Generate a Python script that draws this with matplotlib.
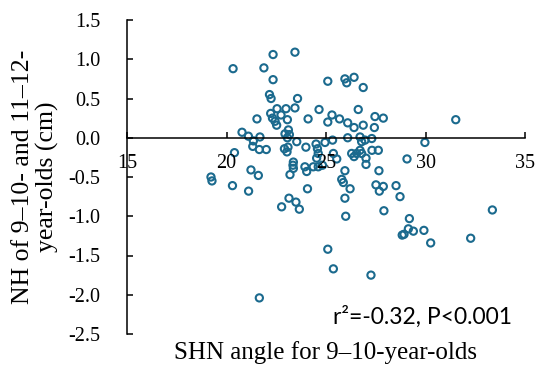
import matplotlib
matplotlib.use("Agg")
import matplotlib.pyplot as plt
import numpy as np

plt.rcParams['axes.unicode_minus'] = False

# SHN angle (9-10 years) and NH (cm)
shn = np.array([
    20.33, 21.88, 22.34, 23.44, 22.34, 22.16, 22.24, 23.57, 23.44, 22.99,
    22.54, 22.22, 22.74, 22.31, 22.44, 22.52, 23.06, 21.53, 24.10, 23.11,
    22.94, 23.16, 23.06, 20.78, 21.10, 21.68, 24.65, 25.09, 25.95, 26.04,
    26.41, 26.87, 25.30, 25.09, 25.68, 26.09, 26.41, 26.87, 26.62, 27.46,
    27.88, 27.43, 31.52, 26.09, 26.71, 27.30,
    21.35, 21.32, 21.65, 22.00, 20.40, 22.91, 23.09, 23.04, 23.53, 23.99,
    24.50, 24.95, 25.33, 24.57, 24.61, 24.53, 25.37, 25.54, 26.79, 26.96,
    26.29, 26.41, 26.54, 26.71, 26.79, 27.01, 27.01, 27.31, 27.63, 27.66,
    29.07, 29.97, 23.36, 23.34, 23.36, 23.94, 24.03, 24.36, 24.61, 24.82,
    23.19, 21.23, 21.60, 25.95, 25.79, 25.87, 19.22, 19.27, 20.30, 21.11,
    24.07, 23.14, 23.49, 22.77, 23.66, 26.21, 25.95, 25.99, 25.09, 25.37,
    21.65, 27.26, 27.51, 27.68, 27.88, 28.52, 28.72, 27.91, 29.19, 29.14,
    29.39, 29.92, 28.83, 28.92, 30.26, 32.27, 33.36,
])
nh = np.array([
    0.88, 0.89, 1.06, 1.09, 0.74, 0.55, 0.50, 0.50, 0.38, 0.37,
    0.37, 0.31, 0.29, 0.25, 0.21, 0.16, 0.23, 0.24, 0.24, 0.10,
    0.05, 0.04, 0.00, 0.07, 0.02, 0.01, 0.36, 0.72, 0.75, 0.70,
    0.77, 0.64, 0.29, 0.20, 0.24, 0.19, 0.13, 0.16, 0.36, 0.27,
    0.25, 0.13, 0.23, 0.00, 0.01, -0.01,
    -0.04, -0.11, -0.15, -0.15, -0.19, -0.14, -0.12, -0.18, -0.05, -0.12,
    -0.08, -0.06, -0.03, -0.14, -0.20, -0.26, -0.20, -0.27, -0.05, -0.03,
    -0.20, -0.24, -0.20, -0.16, -0.20, -0.26, -0.34, -0.16, -0.16, -0.42,
    -0.27, -0.06, -0.31, -0.35, -0.39, -0.37, -0.43, -0.37, -0.37, -0.35,
    -0.47, -0.41, -0.48, -0.42, -0.53, -0.57, -0.50, -0.55, -0.61, -0.68,
    -0.65, -0.77, -0.82, -0.88, -0.91, -0.65, -0.77, -1.00, -1.42, -1.67,
    -2.04, -1.75, -0.60, -0.68, -0.62, -0.61, -0.75, -0.93, -1.03, -1.16,
    -1.19, -1.18, -1.24, -1.23, -1.34, -1.28, -0.92,
])

xticks = [15, 20, 25, 30, 35]
yticks = [-2.5, -2.0, -1.5, -1.0, -0.5, 0.0, 0.5, 1.0, 1.5]

serif = 'Liberation Serif'
blue = '#1b6a8e'

fig = plt.figure(figsize=(5.35, 3.65), dpi=100)
ax = fig.add_axes([127/535, 31/365, 398/535, 314/365])

ax.scatter(shn, nh, s=27, facecolors='none', edgecolors=blue, linewidths=1.5)

ax.set_xlim(15, 35)
ax.set_ylim(-2.5, 1.5)
ax.set_xticks(xticks)
ax.set_yticks(yticks)
ax.set_yticklabels(['%.1f' % v for v in yticks])

ax.spines['top'].set_visible(False)
ax.spines['right'].set_visible(False)
ax.spines['bottom'].set_position(('data', 0))
for s in ['left', 'bottom']:
    ax.spines[s].set_linewidth(1.1)

ax.tick_params(axis='both', direction='in', length=4.5, width=1.1)
ax.tick_params(axis='x', pad=12)
ax.tick_params(axis='y', pad=19)
for lab in ax.get_xticklabels() + ax.get_yticklabels():
    lab.set_fontfamily(serif)
    lab.set_fontsize(14.5)

ax.set_xlabel('SHN angle for 9\u201310-year-olds', fontfamily=serif, fontsize=18, va='center')
ax.xaxis.set_label_coords(0.5, -0.058)
ax.set_ylabel('NH of 9\u201310- and 11\u201312-\nyear-olds (cm)', fontfamily=serif,
              fontsize=18.5, va='center', linespacing=1.1)
ax.yaxis.set_label_coords(-0.23, 0.5)

ax.text(0.742, 0.054, 'r\u00b2=-0.32, P<0.001', transform=ax.transAxes,
        ha='center', va='center', fontfamily='Lato', fontsize=16.5)

fig.savefig('out.png', dpi=100)
